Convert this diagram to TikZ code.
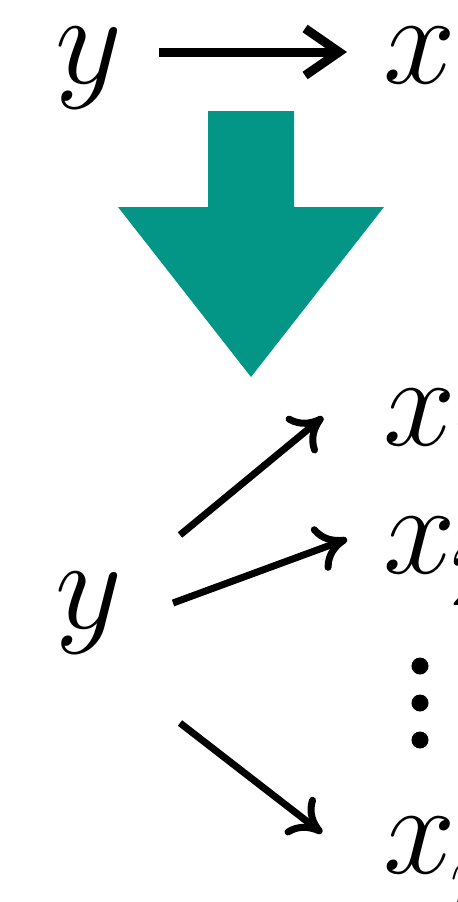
\documentclass[tikz,border=0pt]{standalone}
\usepackage{fix-cm}
\usepackage{tikz}
\usetikzlibrary{arrows.meta,positioning,calc}
\usepackage{xcolor}
\definecolor{arrowteal}{RGB}{3,150,135}
\newcommand{\xsub}[1]{\hspace{-0.06cm}\raisebox{-0.32cm}{\fontsize{26}{26}\selectfont $#1$}}

\begin{document}
\begin{tikzpicture}[x=0.01cm, y=-0.01cm,
  var/.style={font=\fontsize{37}{40}\selectfont, inner sep=0pt},
  dotnode/.style={circle, fill=black, inner sep=0pt, minimum size=0.17cm},
  toparr/.style={line width=0.09cm, -{Straight Barb[length=0.34cm, width=0.47cm]}},
  maparr/.style={line width=0.07cm, -{To[length=0.31cm, width=0.47cm]}}]
\useasboundingbox (0,0) rectangle (458,902);
\clip (0,0) rectangle (458,902);

  % Define coordinates for nodes
\node[var, anchor=base west] (ytop) at (55,83) {$y$}; \node[var, anchor=base west] (xtop) at (383,83) {$x$}; \node[var, anchor=base west] (ybot) at (55,628) {$y$}; \node[var, anchor=base west] (xone) at (383,445) {$x$\xsub{1}}; \node[var, anchor=base west] (xtwo) at (383,573) {$x$\xsub{2}}; \node[var, anchor=base west] (xn) at (383,873) {$x$\xsub{n}}; \node[dotnode] (d1) at (420,666) {}; \node[dotnode] (d2) at (420,703) {}; \node[dotnode] (d3) at (420,740) {};

  % Draw arrows between nodes
\fill[arrowteal] (208,111) -- (294,111) -- (294,207) -- (384,207) -- (251,377) -- (118,207) -- (208,207) -- cycle;
\draw[toparr] ($(ytop.base west)+(104,-31)$) to ($(xtop.base west)+(-36,-31)$); \draw[maparr] ($(ybot.base west)+(125,-93)$) to ($(xone.base west)+(-60,-28)$); \draw[maparr] ($(ybot.base west)+(118,-25)$) to ($(xtwo.base west)+(-36,-34)$); \draw[maparr] ($(ybot.base west)+(125,95)$) to ($(xn.base west)+(-61,-40)$);

\end{tikzpicture}
\end{document}
